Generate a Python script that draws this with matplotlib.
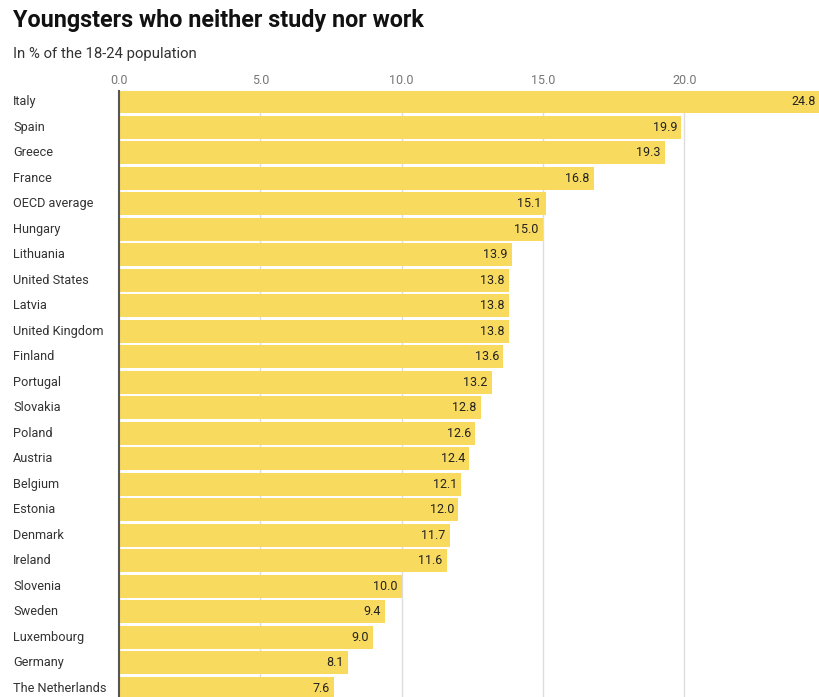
import matplotlib
matplotlib.use("Agg")
import matplotlib.pyplot as plt
import matplotlib.transforms as mtransforms

countries = ["Italy", "Spain", "Greece", "France", "OECD average", "Hungary",
             "Lithuania", "United States", "Latvia", "United Kingdom", "Finland",
             "Portugal", "Slovakia", "Poland", "Austria", "Belgium", "Estonia",
             "Denmark", "Ireland", "Slovenia", "Sweden", "Luxembourg", "Germany",
             "The Netherlands"]
values = [24.8, 19.9, 19.3, 16.8, 15.1, 15.0, 13.9, 13.8, 13.8, 13.8, 13.6,
          13.2, 12.8, 12.6, 12.4, 12.1, 12.0, 11.7, 11.6, 10.0, 9.4, 9.0, 8.1, 7.6]
ticks = [0, 5, 10, 15, 20]

plt.rcParams['font.family'] = ['Roboto', 'DejaVu Sans']

W, H = 820, 697
fig = plt.figure(figsize=(W / 100, H / 100), dpi=100)
ax = fig.add_axes([119 / W, 0, (820 - 119) / W, (697 - 91) / H])

pos = list(range(len(countries)))
ax.barh(pos, values, height=0.9, color="#F8DA5E", zorder=2)
for p, v in zip(pos, values):
    ax.text(v - 0.15, p, f"{v:.1f}", ha="right", va="center",
            fontsize=9, color="#222222", zorder=3)

# country labels at a fixed figure x, row y
lab_tr = mtransforms.blended_transform_factory(fig.transFigure, ax.transData)
for p, c in zip(pos, countries):
    ax.text(13 / W, p, c, transform=lab_tr, fontsize=9.2,
            color="#333333", va="center", ha="left")

ax.set_xlim(0, 24.8)
ax.set_ylim(23.35, -0.43)
ax.set_xticks(ticks)
ax.set_xticklabels([f"{t:.1f}" for t in ticks])
ax.xaxis.tick_top()
ax.tick_params(axis="x", length=0, pad=3, labelsize=9, labelcolor="#777777")
ax.set_yticks([])
ax.grid(axis="x", color="#DDDDDD", linewidth=1, zorder=1)
for s in ["top", "right", "bottom"]:
    ax.spines[s].set_visible(False)
ax.spines["left"].set_color("#555555")
ax.spines["left"].set_linewidth(1.5)
ax.spines["left"].set_zorder(4)

fig.text(13 / W, 1 - 21 / H, "Youngsters who neither study nor work",
         fontsize=16.8, fontweight="bold", color="#111111", va="center")
fig.text(13 / W, 1 - 54 / H, "In % of the 18-24 population",
         fontsize=10.7, color="#333333", va="center")

fig.savefig("out.png", dpi=100)
